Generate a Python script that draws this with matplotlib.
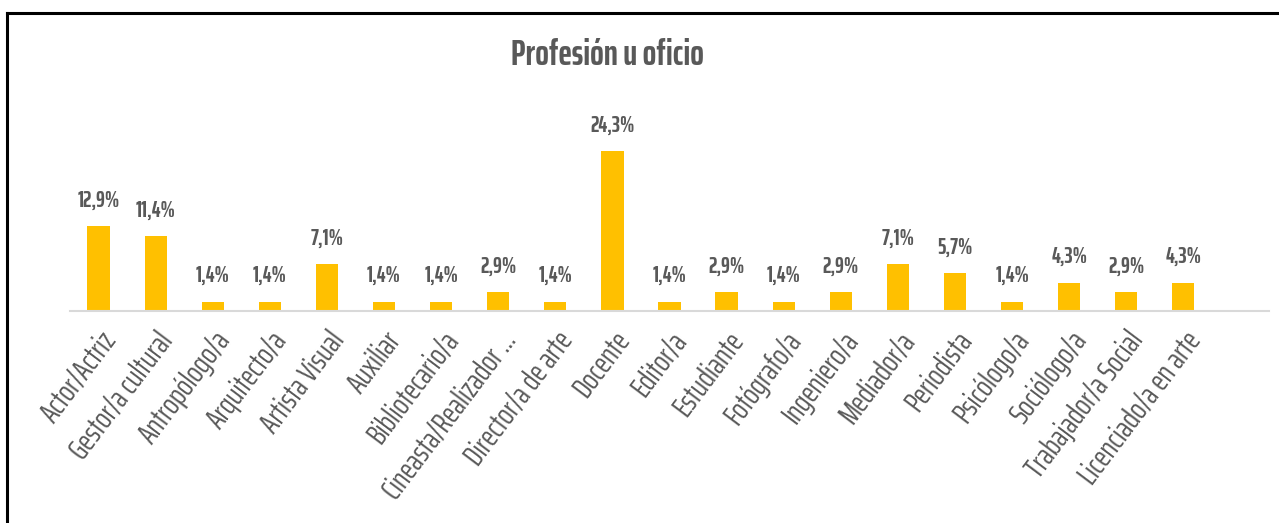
import matplotlib.pyplot as plt
from matplotlib.lines import Line2D

categorias = ['Actor/Actriz', 'Gestor/a cultural', 'Antropólogo/a', 'Arquitecto/a',
              'Artista Visual', 'Auxiliar', 'Bibliotecario/a', 'Cineasta/Realizador ...',
              'Director/a de arte', 'Docente', 'Editor/a', 'Estudiante', 'Fotógrafo/a',
              'Ingeniero/a', 'Mediador/a', 'Periodista', 'Psicólogo/a', 'Sociólogo/a',
              'Trabajador/a Social', 'Licenciado/a en arte']
porcentajes = [12.9, 11.4, 1.4, 1.4, 7.1, 1.4, 1.4, 2.9, 1.4, 24.3,
               1.4, 2.9, 1.4, 2.9, 7.1, 5.7, 1.4, 4.3, 2.9, 4.3]

fuente = ['Saira ExtraCondensed', 'DejaVu Sans']
fuente_ejes = ['Saira ExtraCondensed', 'DejaVu Sans']
gris = '#595959'

fig = plt.figure(figsize=(12.79, 5.23), dpi=100)
ax = fig.add_axes([70 / 1279, 1 - 311 / 523, 1199 / 1279, 211 / 523])

x = range(len(categorias))
ax.bar(x, porcentajes, width=0.39, color='#FFC000')

for xi, v in zip(x, porcentajes):
    ax.text(xi, v + 2.2, f'{v:.1f}%'.replace('.', ','), ha='center', va='bottom',
            fontsize=16, fontweight='bold', color=gris, family=fuente)

ax.set_xlim(-0.5, 20.5)
ax.set_ylim(0, 32.05)
ax.set_xticks(list(x))
ax.set_xticklabels(categorias, rotation=53, ha='right', rotation_mode='anchor',
                   fontsize=22, color=gris, family=fuente_ejes)
ax.tick_params(axis='x', length=0, pad=11)
ax.set_yticks([])
for lado in ['top', 'right', 'left']:
    ax.spines[lado].set_visible(False)
ax.spines['bottom'].set_color('#D9D9D9')
ax.spines['bottom'].set_linewidth(1.5)

fig.text(607 / 1279, 1 - 55 / 523, 'Profesión u oficio', ha='center', va='center',
         fontsize=26, fontweight='bold', color=gris, family=fuente)

# marco negro (solo borde superior e izquierdo visibles)
fig.add_artist(Line2D([7 / 1279, 7 / 1279], [0, 1 - 13 / 523], color='black', lw=2.2,
                      transform=fig.transFigure))
fig.add_artist(Line2D([7 / 1279, 1], [1 - 13 / 523, 1 - 13 / 523], color='black', lw=2.2,
                      transform=fig.transFigure))

fig.savefig('out.png', dpi=100)
